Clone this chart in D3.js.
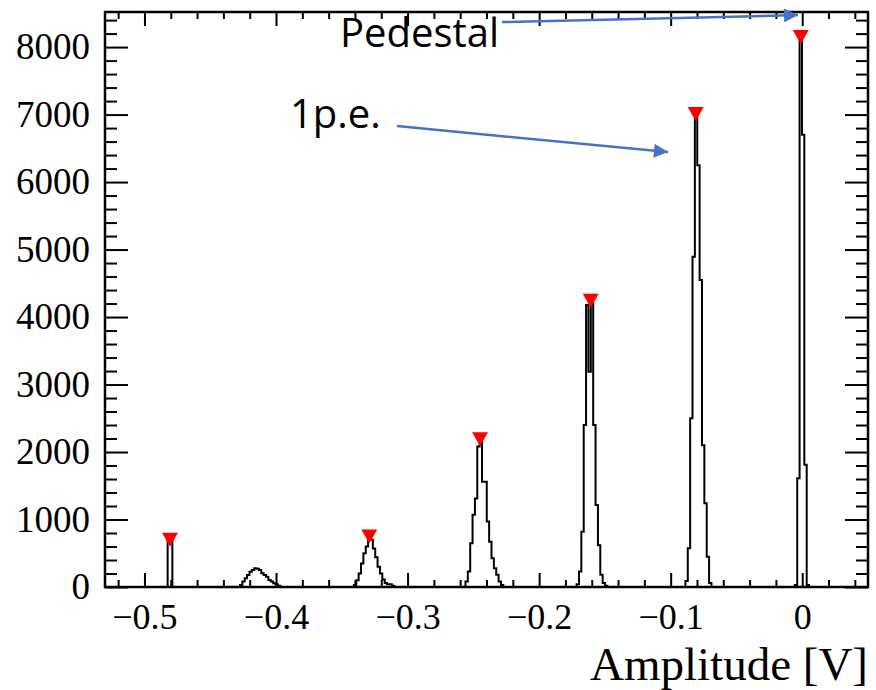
<!DOCTYPE html>
<html><head><meta charset="utf-8">
<script src="https://cdn.jsdelivr.net/npm/d3@7"></script>
<style>body{margin:0;background:#fff}</style></head>
<body><svg id="c" width="876" height="690"></svg>
<script>
// ---- data ----
const binWidth = 0.0018;
const peakStarts = [-0.4824, -0.4274, -0.3408, -0.2560, -0.1715, -0.0888, -0.0056];
const peakCounts = [
  [700, 680],
  [30, 80, 128, 178, 227, 252, 277, 270, 252, 202, 178, 153, 104, 80, 54, 40, 20],
  [30, 100, 200, 350, 500, 600, 720, 700, 570, 440, 300, 200, 110, 60, 40, 40, 20],
  [80, 230, 650, 1070, 1310, 2080, 2150, 1560, 1560, 970, 670, 425, 277, 180, 80, 30],
  [40, 230, 820, 2400, 4180, 3190, 4200, 2400, 1215, 620, 180, 60, 20],
  [90, 573, 2500, 4893, 7090, 6250, 4550, 2100, 1240, 450, 60],
  [30, 1610, 8200, 6700, 1810, 30]
];
const markerX = [-0.4806, -0.3291, -0.2449, -0.1608, -0.0810, -0.0011];
const markerY = [700, 748, 2190, 4240, 7010, 8150];
const xMajorTicks = [-0.5, -0.4, -0.3, -0.2, -0.1, 0];
const yMajorTicks = [0, 1000, 2000, 3000, 4000, 5000, 6000, 7000, 8000];
const xDomain = [-0.53, 0.05];
const yDomain = [0, 8520];
const xTitle = "Amplitude [V]";
const annotLabels = ["Pedestal", "1p.e."];
const annotTextX = [-0.3514, -0.3894];
const annotTextY = [8000, 6800];
const arrowFrom = [[-0.2282, 8370], [-0.3080, 6830]];
const arrowTo = [[-0.0032, 8474], [-0.1020, 6444]];

// ---- layout ----
const m = {l: 105, r: 868, t: 12, b: 587};
const svg = d3.select("#c");
svg.append("rect").attr("width", 876).attr("height", 690).attr("fill", "#fff");
const x = d3.scaleLinear().domain(xDomain).range([m.l, m.r]);
const y = d3.scaleLinear().domain(yDomain).range([m.b, m.t]);
const serif = "'Liberation Serif', 'Times New Roman', serif";

// histogram step path
const pts = [[xDomain[0], 0]];
peakStarts.forEach((s, i) => {
  const cs = peakCounts[i];
  pts.push([s, 0]);
  cs.forEach((c, j) => {
    const x0 = s + j * binWidth;
    pts.push([x0, c], [x0 + binWidth, c]);
  });
  pts.push([s + cs.length * binWidth, 0]);
});
pts.push([xDomain[1], 0]);
const line = d3.line().x(d => x(d[0])).y(d => y(d[1]));
svg.append("path").attr("d", line(pts)).attr("fill", "none")
  .attr("stroke", "#000").attr("stroke-width", 2).attr("stroke-linejoin", "miter");

// axes
function styleAxis(g) {
  g.select(".domain").remove();
  g.selectAll("line").attr("stroke", "#000").attr("stroke-width", 2);
  g.selectAll("text").attr("font-family", serif).attr("font-size", 37).attr("fill", "#000");
}
const xMinor = d3.range(-0.52, 0.0401, 0.02).filter(v => !xMajorTicks.some(t => Math.abs(t - v) < 1e-6));
const yMinor = d3.range(0, 8401, 200).filter(v => v % 1000 !== 0);

const xLab = svg.append("g").attr("transform", `translate(0,${m.b})`)
  .call(d3.axisBottom(x).tickValues(xMajorTicks).tickSizeInner(-14).tickSizeOuter(0).tickPadding(16).tickFormat(d3.format(".1~f")))
  .call(styleAxis);
xLab.selectAll("text").attr("font-size", 36);
svg.append("g").attr("transform", `translate(0,${m.b})`)
  .call(d3.axisBottom(x).tickValues(xMinor).tickSizeInner(-7).tickSizeOuter(0).tickFormat(""))
  .call(styleAxis);
svg.append("g").attr("transform", `translate(0,${m.t})`)
  .call(d3.axisTop(x).tickValues(xMajorTicks).tickSizeInner(-14).tickSizeOuter(0).tickFormat(""))
  .call(styleAxis);
svg.append("g").attr("transform", `translate(0,${m.t})`)
  .call(d3.axisTop(x).tickValues(xMinor).tickSizeInner(-7).tickSizeOuter(0).tickFormat(""))
  .call(styleAxis);
svg.append("g").attr("transform", `translate(${m.l},0)`)
  .call(d3.axisLeft(y).tickValues(yMajorTicks).tickSizeInner(-23).tickSizeOuter(0).tickPadding(15).tickFormat(d3.format("d")))
  .call(styleAxis);
svg.append("g").attr("transform", `translate(${m.l},0)`)
  .call(d3.axisLeft(y).tickValues(yMinor).tickSizeInner(-12).tickSizeOuter(0).tickFormat(""))
  .call(styleAxis);
svg.append("g").attr("transform", `translate(${m.r},0)`)
  .call(d3.axisRight(y).tickValues(yMajorTicks).tickSizeInner(-23).tickSizeOuter(0).tickFormat(""))
  .call(styleAxis);
svg.append("g").attr("transform", `translate(${m.r},0)`)
  .call(d3.axisRight(y).tickValues(yMinor).tickSizeInner(-12).tickSizeOuter(0).tickFormat(""))
  .call(styleAxis);

// frame
svg.append("rect").attr("x", m.l).attr("y", m.t).attr("width", m.r - m.l).attr("height", m.b - m.t)
  .attr("fill", "none").attr("stroke", "#000").attr("stroke-width", 2.5);

// peak markers (downward triangles, centred on the peak position)
const downTri = {draw(ctx, size) { const w = 8, h = 7; ctx.moveTo(-w, -h); ctx.lineTo(w, -h); ctx.lineTo(0, h); ctx.closePath(); }};
const tri = d3.symbol().type(downTri);
svg.append("g").selectAll("path").data(markerX).join("path")
  .attr("d", tri)
  .attr("transform", (d, i) => `translate(${x(d)},${y(markerY[i])})`)
  .attr("fill", "#ff0000");

// axis title
svg.append("text").attr("x", m.r).attr("y", 680).attr("text-anchor", "end")
  .attr("font-family", serif).attr("font-size", 47).attr("fill", "#000").text(xTitle);

// annotations
const defs = svg.append("defs");
defs.append("marker").attr("id", "ah").attr("viewBox", "0 0 10 10").attr("refX", 10).attr("refY", 5)
  .attr("markerUnits", "userSpaceOnUse").attr("markerWidth", 16).attr("markerHeight", 14)
  .attr("orient", "auto")
  .append("path").attr("d", "M0,0 L10,5 L0,10 Z").attr("fill", "#4472c4");
annotLabels.forEach((t, i) => {
  svg.append("text").attr("x", x(annotTextX[i])).attr("y", y(annotTextY[i]))
    .attr("font-family", "'Open Sans', sans-serif").attr("font-size", 40).attr("fill", "#000").text(t);
  svg.append("line")
    .attr("x1", x(arrowFrom[i][0])).attr("y1", y(arrowFrom[i][1]))
    .attr("x2", x(arrowTo[i][0])).attr("y2", y(arrowTo[i][1]))
    .attr("stroke", "#4472c4").attr("stroke-width", 2.5).attr("marker-end", "url(#ah)");
});
</script>
</body></html>
